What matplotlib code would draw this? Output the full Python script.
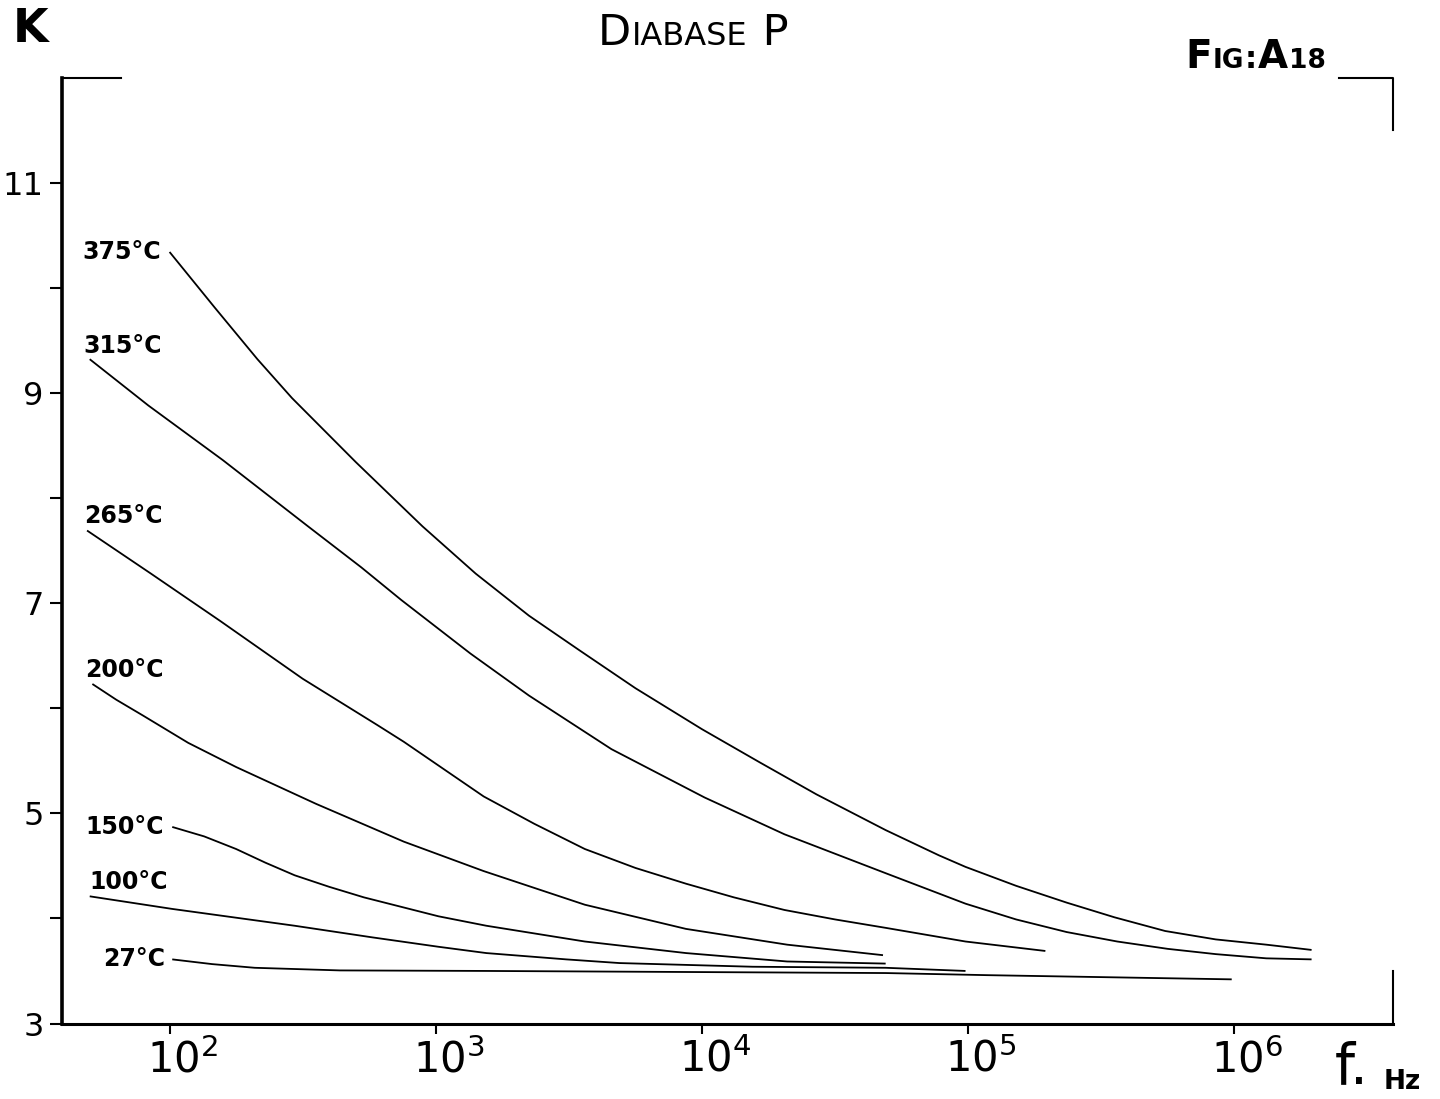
import numpy as np
import matplotlib
matplotlib.use("Agg")
import matplotlib.pyplot as plt
from matplotlib.ticker import FuncFormatter, NullLocator
import matplotlib.transforms as mtransforms

plt.rcParams['font.family'] = ['DejaVu Sans']

W, H = 1440, 1099

# dielectric constant K vs frequency (log10 of f in Hz)
logf_375 = [2.00, 2.17, 2.33, 2.46, 2.70, 2.95, 3.15, 3.35, 3.54, 3.75, 4.00, 4.22, 4.43, 4.69, 4.89, 4.99, 5.18, 5.37, 5.55, 5.74, 5.93, 6.12, 6.29]
k_375 = [10.34, 9.81, 9.32, 8.95, 8.34, 7.73, 7.28, 6.88, 6.55, 6.19, 5.80, 5.48, 5.18, 4.84, 4.60, 4.49, 4.31, 4.15, 4.01, 3.88, 3.80, 3.75, 3.70]

logf_315 = [1.70, 1.92, 2.20, 2.52, 2.72, 2.87, 3.13, 3.35, 3.66, 4.01, 4.31, 4.69, 4.99, 5.18, 5.37, 5.56, 5.75, 5.93, 6.12, 6.29]
k_315 = [9.32, 8.88, 8.36, 7.73, 7.34, 7.03, 6.52, 6.12, 5.61, 5.15, 4.80, 4.43, 4.14, 3.99, 3.87, 3.78, 3.71, 3.66, 3.62, 3.61]

logf_265 = [1.69, 1.93, 2.19, 2.50, 2.78, 2.88, 3.18, 3.37, 3.56, 3.75, 3.94, 4.12, 4.31, 4.50, 4.69, 4.99, 5.29]
k_265 = [7.69, 7.28, 6.83, 6.28, 5.84, 5.68, 5.16, 4.90, 4.66, 4.48, 4.33, 4.20, 4.08, 3.99, 3.91, 3.78, 3.69]

logf_200 = [1.71, 1.80, 1.90, 2.07, 2.25, 2.55, 2.88, 3.18, 3.56, 3.94, 4.32, 4.68]
k_200 = [6.23, 6.08, 5.93, 5.67, 5.44, 5.09, 4.73, 4.45, 4.13, 3.90, 3.75, 3.65]

logf_150 = [2.01, 2.13, 2.25, 2.36, 2.47, 2.60, 2.73, 3.01, 3.19, 3.56, 3.94, 4.32, 4.69]
k_150 = [4.87, 4.78, 4.66, 4.53, 4.41, 4.30, 4.20, 4.02, 3.93, 3.78, 3.67, 3.59, 3.57]

logf_100 = [1.70, 2.01, 2.47, 2.76, 3.01, 3.19, 3.49, 3.69, 4.19, 4.69, 4.99]
k_100 = [4.21, 4.09, 3.93, 3.82, 3.73, 3.67, 3.61, 3.575, 3.54, 3.53, 3.50]

logf_27 = [2.01, 2.16, 2.32, 2.64, 3.19, 3.94, 4.69, 5.07, 5.99]
k_27 = [3.61, 3.565, 3.53, 3.505, 3.50, 3.49, 3.48, 3.46, 3.42]

labels = ['375°C', '315°C', '265°C', '200°C', '150°C', '100°C', '27°C']
curves = [(logf_375, k_375), (logf_315, k_315), (logf_265, k_265), (logf_200, k_200),
          (logf_150, k_150), (logf_100, k_100), (logf_27, k_27)]
# label placement relative to the start of each curve (pixels, alignment)
label_pos = [(-9, 0, 'right'), (-6, 13, 'left'), (-3, 15, 'left'), (-7, 14, 'left'),
             (-8, 0, 'right'), (0, 14, 'left'), (-7, 0, 'right')]

x_ticks = [1e2, 1e3, 1e4, 1e5, 1e6]
y_major = [3, 5, 7, 9, 11]
y_minor = [4, 6, 8, 10]

fig = plt.figure(figsize=(W / 100, H / 100), dpi=100)
ax = fig.add_axes([61.5 / W, 75.5 / H, 1331 / W, 946 / H])

for (lf, k), lab, (dx, dy, ha) in zip(curves, labels, label_pos):
    f = np.power(10.0, lf)
    ax.plot(f, k, color='black', lw=1.3, solid_joinstyle='round', solid_capstyle='butt')
    ax.annotate(lab, xy=(f[0], k[0]), xytext=(dx, dy), textcoords='offset pixels',
                ha=ha, va='center', fontsize=17, fontweight='bold')

ax.set_xscale('log')
ax.set_xlim(10 ** 1.594, 10 ** 6.594)
ax.set_ylim(3, 12)

for s in ['top', 'right']:
    ax.spines[s].set_visible(False)
ax.spines['left'].set_linewidth(2.6)
ax.spines['bottom'].set_linewidth(2.2)

ax.set_xticks(x_ticks)
ax.xaxis.set_minor_locator(NullLocator())
ax.xaxis.set_major_formatter(FuncFormatter(lambda v, p: r'$\mathregular{10^{%d}}$' % round(np.log10(v))))
ax.tick_params(axis='x', direction='out', length=7, width=1.5, pad=4, labelsize=30)

ax.set_yticks(y_major)
ax.set_yticks(y_minor, minor=True)
ax.tick_params(axis='y', which='both', direction='out', length=9, width=1.5, pad=4, labelsize=23)

shift = mtransforms.ScaledTranslation(13 / 100, 0, fig.dpi_scale_trans)
for lab in ax.get_xticklabels():
    lab.set_transform(lab.get_transform() + shift)

# corner marks of the frame
ax.plot([0, 0.045], [1, 1], transform=ax.transAxes, color='black', lw=1.5, clip_on=False)
ax.plot([0.96, 1, 1], [1, 1, 0.944], transform=ax.transAxes, color='black', lw=1.5, clip_on=False)
ax.plot([1, 1], [0, 0.055], transform=ax.transAxes, color='black', lw=1.5, clip_on=False)

fig.text(31 / W, 1 - 30 / H, 'K', fontsize=33, fontweight='bold', ha='center', va='center')


def chain_text(x_px, y_px, parts, **kw):
    r = fig.canvas.get_renderer()
    for s, size in parts:
        t = fig.text(x_px / W, 1 - y_px / H, s, fontsize=size, va='baseline', **kw)
        x_px = t.get_window_extent(r).x1 + 1


chain_text(598, 45, [('D', 31), ('IABASE', 23), (' P', 31)])
chain_text(1185, 68, [('F', 28), ('IG', 19), (':', 22), ('A', 28), ('18', 19)], fontweight='bold')
chain_text(1335, 1083, [('f.', 41)])
chain_text(1384, 1089, [('Hz', 19)], fontweight='bold')

fig.savefig('out.png', dpi=100)
